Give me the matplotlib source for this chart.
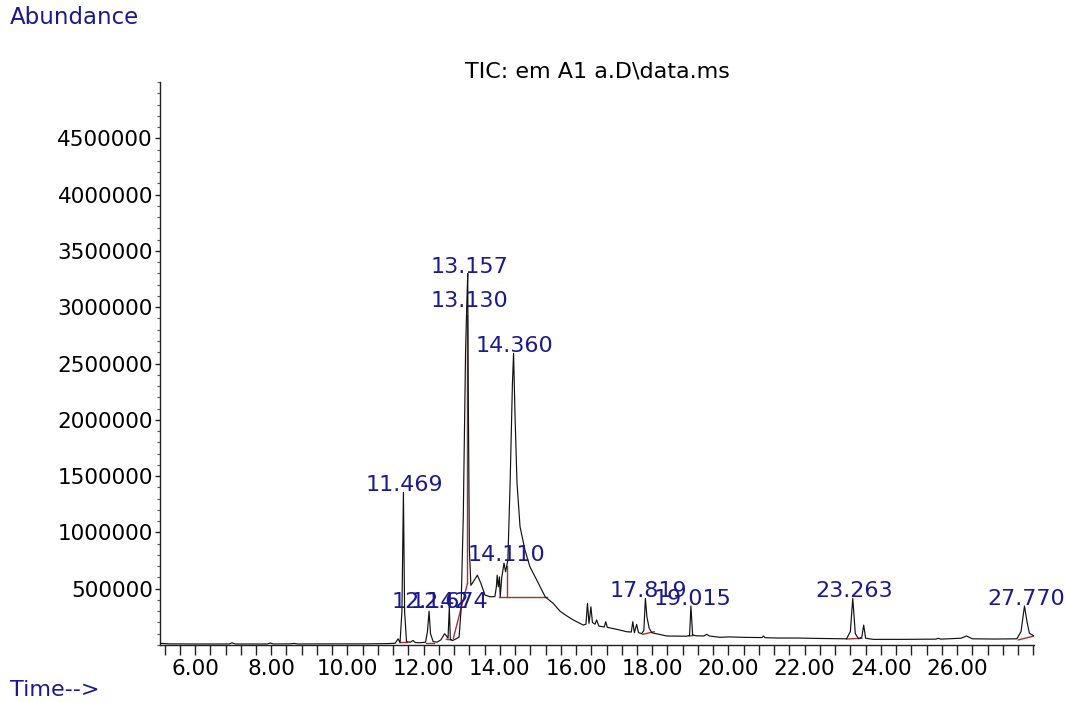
import matplotlib
matplotlib.use("Agg")
import matplotlib.pyplot as plt
from matplotlib.ticker import FixedLocator, MultipleLocator

# ---------------- data ----------------
# retention time (min)
times = [5.08, 5.3, 6.0, 6.9, 6.97, 7.05, 7.9, 7.97, 8.05, 8.5, 8.6, 8.7, 9.5, 10.5,
         11.0, 11.25, 11.33, 11.38, 11.43, 11.469, 11.50, 11.55, 11.65, 11.72, 11.78,
         11.9, 12.05, 12.10, 12.142, 12.18, 12.25, 12.35, 12.45, 12.55, 12.60, 12.64,
         12.674, 12.70, 12.76, 12.85, 12.93, 12.98, 13.04, 13.10, 13.130, 13.157,
         13.17, 13.20, 13.24, 13.30, 13.41, 13.50, 13.61, 13.75, 13.87, 13.91, 13.93,
         13.96, 13.99, 14.01, 14.05, 14.08, 14.11, 14.15, 14.21, 14.27, 14.33, 14.360,
         14.40, 14.45, 14.53, 14.66, 14.79, 14.97, 15.19, 15.40, 15.58, 15.75, 15.93,
         16.19, 16.26, 16.30, 16.34, 16.39, 16.43, 16.50, 16.54, 16.60, 16.74, 16.78,
         16.82, 17.07, 17.33, 17.45, 17.49, 17.53, 17.59, 17.64, 17.72, 17.78, 17.82,
         17.86, 17.92, 17.99, 18.38, 18.9, 18.98, 19.015, 19.06, 19.15, 19.35, 19.43,
         19.50, 19.78, 20.0, 20.4, 20.88, 20.92, 20.96, 21.27, 21.8, 22.4, 23.1, 23.20,
         23.263, 23.33, 23.42, 23.50, 23.55, 23.60, 23.80, 24.5, 25.45, 25.51, 25.57,
         26.1, 26.25, 26.4, 27.0, 27.57, 27.68, 27.77, 27.84, 27.90, 28.02]
# abundance (thousands of counts)
abund_k = [15, 10, 9, 9, 20, 9, 9, 18, 9, 10, 14, 9, 10, 10,
           12, 15, 55, 20, 300, 1356, 300, 30, 25, 40, 22,
           20, 25, 120, 300, 100, 30, 25, 45, 100, 80, 60,
           340, 50, 40, 55, 70, 300, 1140, 2600, 3000, 3300,
           2300, 850, 530, 560, 620, 550, 443, 428, 430, 520, 620,
           517, 605, 428, 600, 665, 727, 650, 754, 1440, 2320, 2590,
           2020, 1440, 1050, 842, 694, 576, 428, 370, 300, 260, 222,
           177, 185, 370, 192, 340, 200, 185, 222, 168, 160, 207,
           157, 139, 118, 115, 207, 109, 183, 110, 100, 130, 414,
           250, 148, 109, 80, 78, 85, 346, 89, 82, 80, 95,
           80, 68, 72, 68, 66, 80, 65, 62, 62, 58, 55, 120,
           414, 100, 55, 70, 177, 60, 50, 50, 52, 60, 52,
           60, 80, 55, 53, 55, 120, 346, 200, 104, 80]

# integration baselines (start time, start abundance k, end time, end abundance k)
base_t0 = [11.38, 12.05, 12.60, 12.78, 13.99, 17.75, 18.97, 23.10, 27.61]
base_a0 = [30, 22, 50, 60, 423, 95, 80, 53, 45]
base_t1 = [11.56, 12.28, 12.73, 13.15, 15.23, 18.05, 19.08, 23.50, 28.02]
base_a1 = [30, 22, 45, 547, 423, 118, 85, 60, 80]
# drop lines (time, low abundance k, high abundance k)
drop_t = [13.15, 14.19]
drop_lo = [547, 423]
drop_hi = [2930, 700]

# peak labels
peak_text = ["11.469", "12.142", "12.674", "13.130", "13.157", "14.110",
             "14.360", "17.819", "19.015", "23.263", "27.770"]
peak_t = [11.486, 12.17, 12.67, 13.19, 13.19, 14.18, 14.39, 17.89, 19.06, 23.30, 27.81]
peak_a = [1365, 328, 328, 3005, 3307, 745, 2606, 425, 355, 425, 355]

xtick_vals = [6, 8, 10, 12, 14, 16, 18, 20, 22, 24, 26]
ytick_vals = [500000, 1000000, 1500000, 2000000, 2500000, 3000000, 3500000, 4000000, 4500000]

title = "TIC: em A1 a.D\\data.ms"

# ---------------- drawing ----------------
plt.rcParams['font.family'] = ['DejaVu Sans']
navy = '#1a1a8e'
red = '#a83030'

fig = plt.figure(figsize=(10.65, 7.02), dpi=100)
fig.patch.set_facecolor('white')
ax = fig.add_axes([160 / 1065, 57 / 702, 874 / 1065, 563 / 702])

ax.plot(times, [a * 1000 for a in abund_k], color='#111111', lw=0.85, zorder=3)

for t0, a0, t1, a1 in zip(base_t0, base_a0, base_t1, base_a1):
    ax.plot([t0, t1], [a0 * 1000, a1 * 1000], color=red, lw=1.0, zorder=2)
for t, lo, hi in zip(drop_t, drop_lo, drop_hi):
    ax.plot([t, t], [lo * 1000, hi * 1000], color=red, lw=1.0, zorder=2)

for txt, t, a in zip(peak_text, peak_t, peak_a):
    ax.text(t, a * 1000, txt, ha='center', va='baseline', color=navy,
            fontsize=16, zorder=4, clip_on=False)

ax.set_xlim(5.08, 28.02)
ax.set_ylim(0, 5000000)

ax.spines['top'].set_visible(False)
ax.spines['right'].set_visible(False)
for s in ('left', 'bottom'):
    ax.spines[s].set_linewidth(1.0)
    ax.spines[s].set_color('#222222')

ax.xaxis.set_major_locator(FixedLocator(xtick_vals))
ax.set_xticklabels([f"{v:.2f}" for v in xtick_vals])
ax.xaxis.set_minor_locator(MultipleLocator(0.4))
ax.yaxis.set_major_locator(FixedLocator(ytick_vals))
ax.set_yticklabels([str(v) for v in ytick_vals])
ax.yaxis.set_minor_locator(MultipleLocator(100000))

ax.tick_params(axis='x', which='both', direction='out', length=7, width=1,
               labelsize=15.5, pad=3, colors='#222222', labelcolor='black')
ax.tick_params(axis='y', which='major', direction='out', length=3.5, width=1,
               labelsize=15.5, pad=1.5, colors='#222222', labelcolor='black')
ax.tick_params(axis='y', which='minor', direction='out', length=2.2, width=0.8,
               colors='#555555')

ax.set_title(title, fontsize=16, pad=3, color='black')

fig.text(10 / 1065, 1 - 17 / 702, "Abundance", color=navy, fontsize=16.5,
         ha='left', va='center')
fig.text(10 / 1065, 1 - 690 / 702, "Time-->", color=navy, fontsize=16,
         ha='left', va='center')

fig.savefig("out.png", dpi=100, facecolor='white')
